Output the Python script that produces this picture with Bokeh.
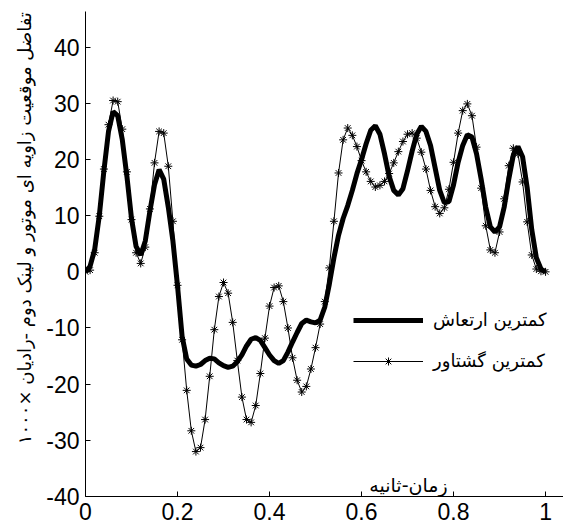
from bokeh.plotting import figure
from bokeh.models import (Range1d, FixedTicker, Label, Legend, LegendItem)
from bokeh.embed import file_html
from bokeh.resources import INLINE

# time grid (s), sampled every 0.01 s
t = [round(0.01 * i, 2) for i in range(101)]

# minimum vibration (thick line)
min_vibration = [
    0, 1.0, 4.0, 10.0, 18.0, 25.0, 28.5, 27.8, 23.5, 17.0,
    9.5, 4.5, 3.0, 5.5, 10.8, 15.5, 18.2, 16.5, 11.5, 5.5,
    -2.5, -11.5, -15.5, -16.6, -16.8, -16.5, -15.8, -15.4, -15.5, -16.2,
    -16.7, -17.0, -16.8, -16.0, -14.8, -13.2, -12.0, -11.7, -12.2, -13.5,
    -14.8, -15.8, -16.3, -15.8, -14.3, -12.5, -10.8, -9.2, -8.6, -8.9,
    -9.1, -8.6, -6.3, -2.2, 2.5, 6.5, 9.5, 11.8, 14.5, 17.5,
    20.0, 22.8, 25.2, 26.0, 24.5, 21.0, 17.0, 14.5, 13.7, 14.8,
    18.0, 21.5, 24.5, 25.9, 25.0, 22.5, 18.5, 14.5, 12.3, 12.5,
    15.5, 19.5, 22.5, 24.4, 24.0, 21.0, 16.5, 11.5, 8.0, 7.1,
    8.0, 11.5, 16.5, 20.8, 22.3, 20.5, 15.0, 7.5, 2.5, 0.5,
    0,
]

# minimum torque (thin line with stars)
min_torque = [
    0, 0.3, 3.4, 9.9, 18.3, 26.2, 30.5, 30.3, 25.4, 17.8,
    9.3, 3.4, 1.5, 4.4, 11.2, 19.4, 25.0, 24.7, 18.8, 9.0,
    -2.4, -12.1, -21.1, -28.3, -32.0, -31.3, -26.3, -18.6, -10.3, -4.4,
    -1.9, -3.8, -9.0, -15.8, -22.3, -26.3, -26.8, -23.8, -18.1, -11.8,
    -6.1, -2.8, -2.5, -5.3, -10.0, -15.3, -19.3, -21.4, -20.4, -17.3,
    -13.5, -9.3, -5.3, 0.7, 9.0, 17.6, 23.5, 25.6, 24.3, 22.3,
    19.8, 17.8, 16.1, 15.1, 15.4, 16.1, 17.5, 19.4, 21.4, 23.2,
    24.5, 24.7, 23.8, 21.3, 18.3, 14.5, 11.6, 10.4, 11.4, 14.7,
    19.5, 24.7, 28.7, 29.9, 27.8, 22.2, 14.9, 8.2, 3.9, 3.4,
    7.1, 13.0, 18.9, 22.0, 21.0, 16.0, 8.9, 3.0, 0.5, 0.1,
    0,
]

x_ticks = [0, 0.2, 0.4, 0.6, 0.8, 1]
x_tick_labels = ["0", "0.2", "0.4", "0.6", "0.8", "1"]
y_ticks = [-40, -30, -20, -10, 0, 10, 20, 30, 40]
y_tick_labels = ["-40", "-30", "-20", "-10", "0", "10", "20", "30", "40"]

series_names = ["کمترین ارتعاش", "کمترین گشتاور"]
x_title = "زمان-ثانیه"
y_title = "تفاضل موقعیت زاویه ای موتور و لینک دوم -رادیان ×۱۰۰۰"

p = figure(width=563, height=529, output_backend="svg", toolbar_location=None,
           x_range=Range1d(0, 1.039), y_range=Range1d(-40, 46.35),
           min_border_left=85, min_border_right=0, min_border_top=11,
           min_border_bottom=33)
p.outline_line_color = None
p.xgrid.visible = False
p.ygrid.visible = False
p.background_fill_color = "white"

for ax, ticks, labels in ((p.xaxis[0], x_ticks, x_tick_labels),
                          (p.yaxis[0], y_ticks, y_tick_labels)):
    ax.ticker = FixedTicker(ticks=ticks)
    ax.major_label_overrides = {k: v for k, v in zip(ticks, labels)}
    ax.major_tick_in = 5
    ax.major_tick_out = 0
    ax.minor_tick_line_color = None
    ax.axis_line_color = "black"
    ax.major_tick_line_color = "black"
    ax.major_label_text_font = "Liberation Sans"
    ax.major_label_text_font_size = "23px"
    ax.major_label_text_color = "black"
    ax.major_label_standoff = 6

# y-axis title (leading no-break spaces shift the visible text upward)
p.yaxis[0].axis_label = "\u00a0" * 9 + y_title
p.yaxis[0].axis_label_text_font = "DejaVu Sans"
p.yaxis[0].axis_label_text_font_size = "18px"
p.yaxis[0].axis_label_text_font_style = "normal"
p.yaxis[0].axis_label_text_color = "black"
p.yaxis[0].axis_label_standoff = 8

r1 = p.line(t, min_vibration, line_width=5, line_color="black")
r2 = p.line(t, min_torque, line_width=1, line_color="black")
r3 = p.scatter(t, min_torque, marker="asterisk", size=8, line_color="black",
               line_width=1)

legend = Legend(items=[LegendItem(label=series_names[0], renderers=[r1]),
                       LegendItem(label=series_names[1], renderers=[r2, r3])],
                location=(268, 125), glyph_width=70, glyph_height=20,
                label_standoff=10, spacing=20, padding=0, margin=0,
                border_line_alpha=0, background_fill_alpha=0,
                label_text_font="DejaVu Sans", label_text_font_size="18px",
                label_text_color="black")
p.add_layout(legend, "center")

p.add_layout(Label(x=0.702, y=-37.9, text=x_title, text_align="center",
                   text_baseline="alphabetic", text_font="DejaVu Sans",
                   text_font_size="19px", text_color="black"))

open("out.html", "w").write(file_html(p, INLINE))
